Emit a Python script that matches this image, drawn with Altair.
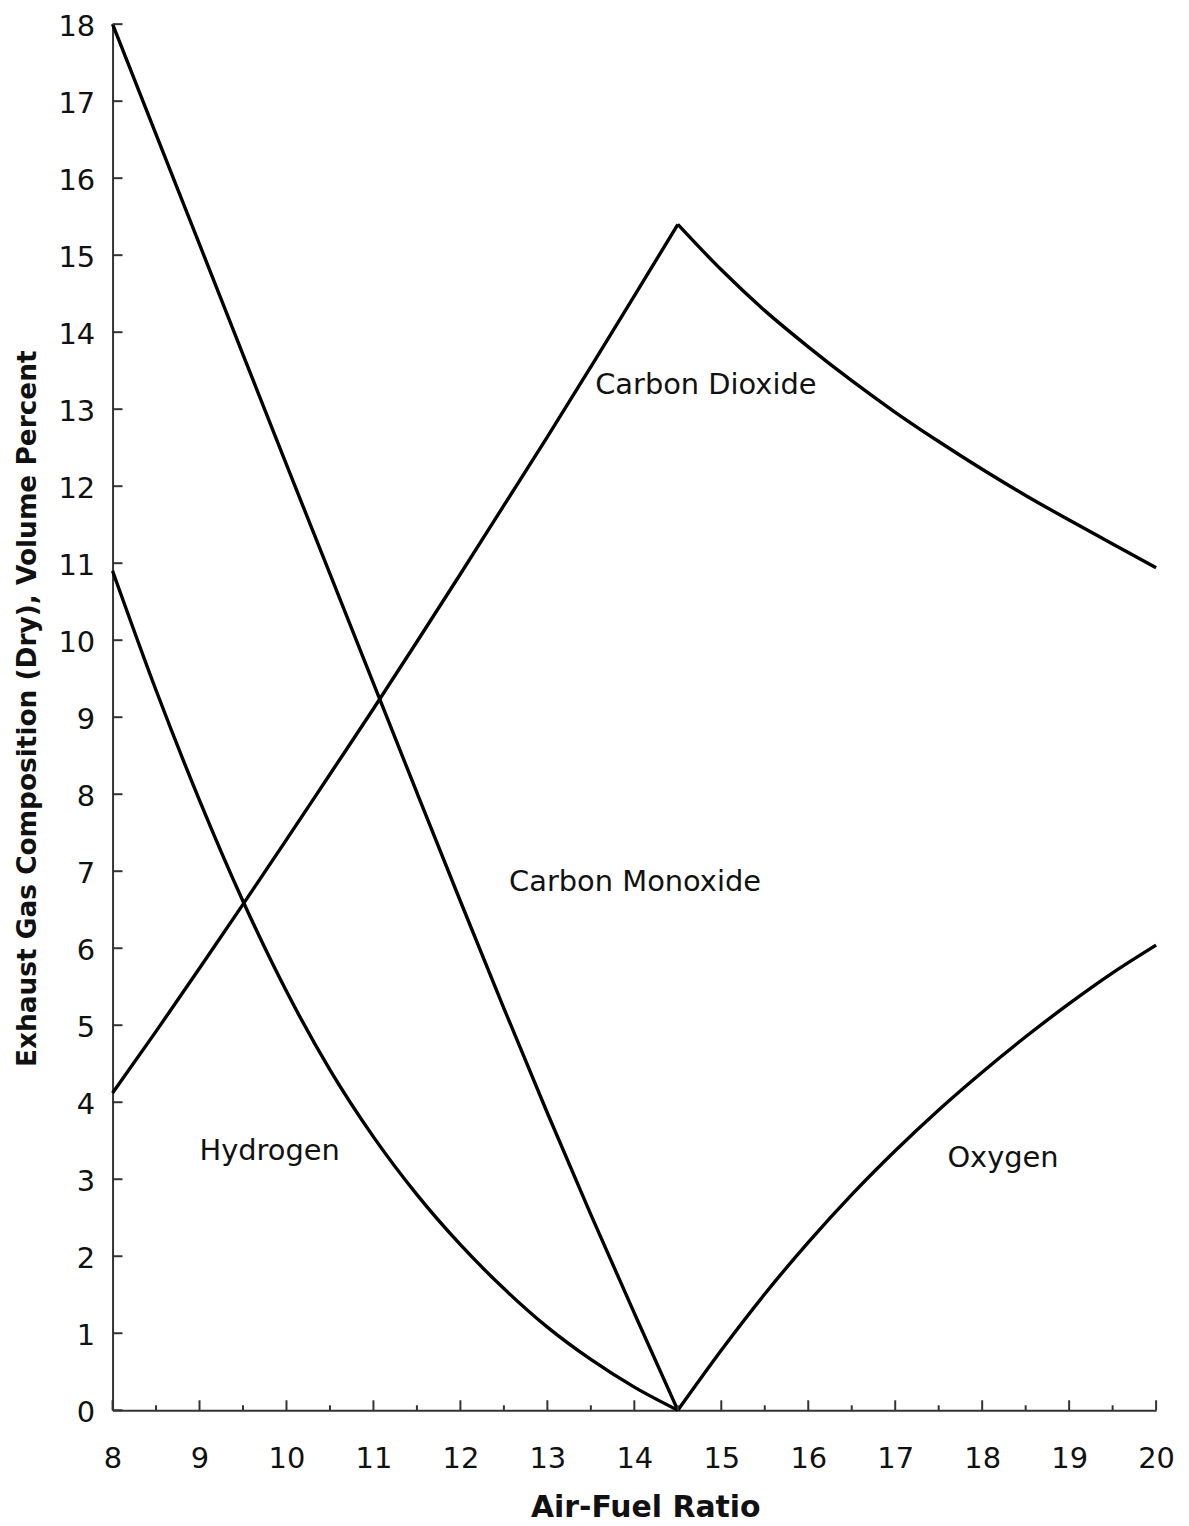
import altair as alt
import pandas as pd

# ---- data ----
x_rich = [8, 8.5, 9, 9.5, 10, 10.5, 11, 11.5, 12, 12.5, 13, 13.5, 14, 14.5]
x_lean = [14.5, 15, 15.5, 16, 16.5, 17, 17.5, 18, 18.5, 19, 19.5, 20]

co2_rise = [4.12, 4.92, 5.74, 6.57, 7.41, 8.26, 9.11, 9.98, 10.86, 11.75, 12.64, 13.55, 14.47, 15.4]
co2_fall = [15.4, 14.81, 14.28, 13.81, 13.37, 12.96, 12.58, 12.22, 11.88, 11.56, 11.25, 10.94]
co = [18.0, 16.57, 15.14, 13.71, 12.28, 10.86, 9.44, 8.02, 6.61, 5.22, 3.86, 2.54, 1.26, 0.0]
h2 = [10.9, 9.35, 7.92, 6.61, 5.44, 4.42, 3.55, 2.80, 2.15, 1.58, 1.08, 0.66, 0.30, 0.0]
o2 = [0.0, 0.78, 1.51, 2.18, 2.80, 3.37, 3.90, 4.39, 4.85, 5.28, 5.68, 6.04]

label_text = ["Carbon Dioxide", "Carbon Monoxide", "Hydrogen", "Oxygen"]
label_x = [13.55, 12.56, 9.0, 17.6]
label_y = [13.31, 6.86, 3.37, 3.27]

x_ticks = list(range(8, 21))
x_minor = [8.5, 9.5, 10.5, 11.5, 12.5, 13.5, 14.5, 15.5, 16.5, 17.5, 18.5, 19.5]
y_ticks = list(range(0, 19))

W, H = 1048, 1392
FONT = "DejaVu Sans"

rows = []
for name, xs, ys in [("CO2 rich", x_rich, co2_rise), ("CO2 lean", x_lean, co2_fall),
                     ("CO", x_rich, co), ("H2", x_rich, h2), ("O2", x_lean, o2)]:
    for i, (a, b) in enumerate(zip(xs, ys)):
        rows.append({"x": a, "y": b, "series": name, "order": i})
df = pd.DataFrame(rows)

xscale = alt.Scale(domain=[8, 20], nice=False, zero=False)
yscale = alt.Scale(domain=[0, 18], nice=False)

ax_x = alt.Axis(values=x_ticks, title="Air-Fuel Ratio", ticks=False,
                labelPadding=57, labelBaseline="alphabetic", labelFontSize=29,
                labelFont=FONT, labelColor="#111", grid=False, labelOverlap=False,
                labelFlush=False,
                domainColor="#333", domainWidth=2,
                titleFont=FONT, titleFontSize=30, titleFontWeight="bold",
                titleColor="#111", titleX=535, titleY=107,
                titleBaseline="alphabetic", titleAlign="center")
ax_y = alt.Axis(values=y_ticks, title="Exhaust Gas Composition (Dry), Volume Percent",
                ticks=False, labelPadding=18, labelFontSize=29, labelOffset=2,
                labelFont=FONT, labelColor="#111", grid=False, labelOverlap=False,
                labelFlush=False,
                domainColor="#333", domainWidth=2,
                titleFont=FONT, titleFontSize=26.5, titleFontWeight="bold",
                titleColor="#111", titleX=-85, titleY=687, titleAngle=270,
                titleBaseline="middle", titleAlign="center")

X = alt.X("x:Q", scale=xscale, axis=ax_x)
Y = alt.Y("y:Q", scale=yscale, axis=ax_y)

lines = alt.Chart(df).mark_line(color="black", strokeWidth=3.4, interpolate="monotone").encode(
    x=X, y=Y, detail="series:N", order="order:Q")

xmajor = alt.Chart(pd.DataFrame({"x": x_ticks})).mark_rule(color="#333", strokeWidth=2).encode(
    x=X, y=alt.value(H), y2=alt.value(H - 10))
xminor = alt.Chart(pd.DataFrame({"x": x_minor})).mark_rule(color="#333", strokeWidth=2).encode(
    x=X, y=alt.value(H), y2=alt.value(H - 5))
ymajor = alt.Chart(pd.DataFrame({"y": y_ticks})).mark_rule(color="#333", strokeWidth=2).encode(
    y=Y, x=alt.value(0), x2=alt.value(10))

labels = alt.Chart(pd.DataFrame({"t": label_text, "x": label_x, "y": label_y})).mark_text(
    font=FONT, fontSize=29, align="left", baseline="middle", color="#111").encode(
    x=X, y=Y, text="t:N")

chart = alt.layer(lines, xmajor, xminor, ymajor, labels).properties(
    width=W, height=H,
    background="white",
    autosize=alt.AutoSizeParams(type="none"),
    padding={"left": 105, "top": 13, "right": 25, "bottom": 110},
).configure_view(stroke=None)

chart.save("out.html", embed_options={"renderer": "svg", "actions": False})
